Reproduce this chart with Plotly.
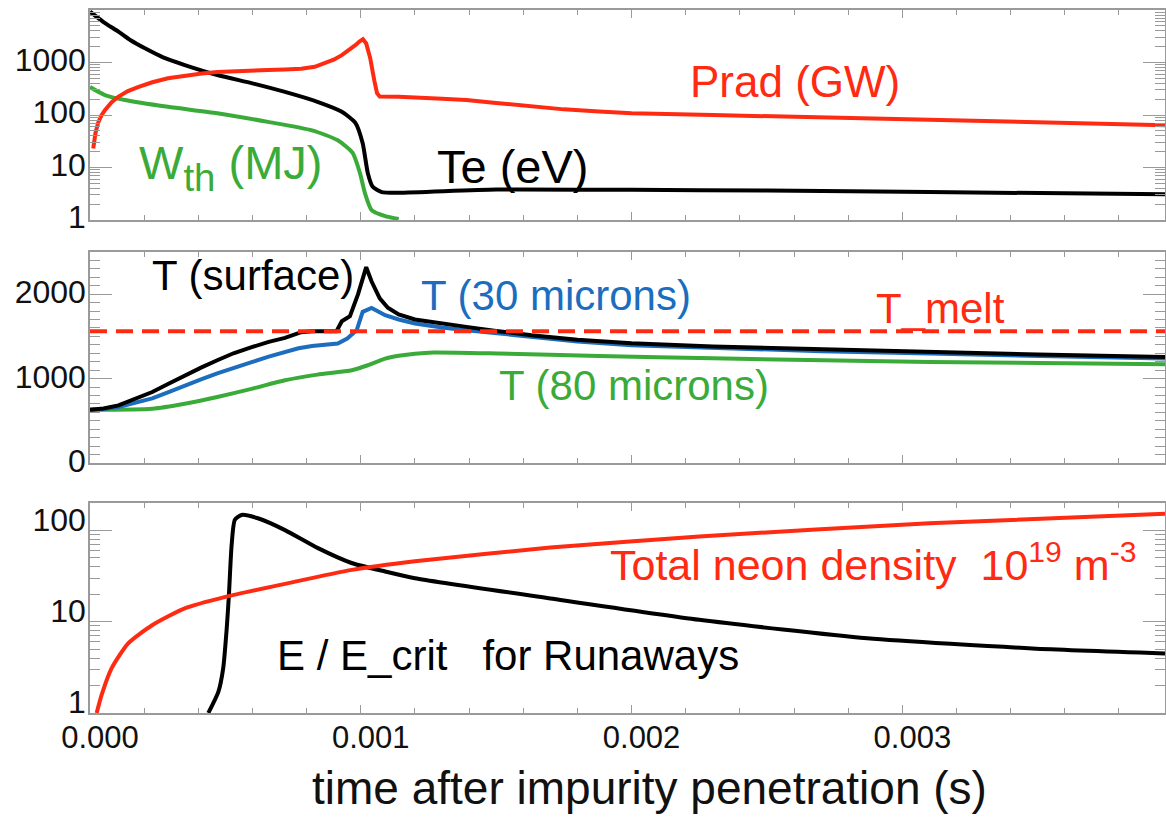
import plotly.graph_objects as go

# ---------------- data ----------------
# Panel 1 (log): Te (eV), Prad (GW), Wth (MJ)
t_te = [0, 0.00005, 0.000105, 0.00015, 0.000203, 0.00027, 0.00035, 0.00047, 0.0006,
        0.00072, 0.00084, 0.00093, 0.00098, 0.001007, 0.001026, 0.001044, 0.001077,
        0.00114, 0.0015, 0.002, 0.0025, 0.0031, 0.00397]
te = [9300, 5900, 3860, 2650, 1860, 1250, 895, 578, 400, 275, 178, 115, 71, 29, 7.8, 4.3,
      3.4, 3.3, 3.8, 3.75, 3.65, 3.4, 3.1]

t_prad = [0.000012, 0.00002, 0.00003, 0.000042, 0.000055, 0.00008, 0.000104, 0.00014,
          0.000177, 0.00023, 0.000288, 0.00035, 0.000413, 0.00047, 0.000535, 0.0006,
          0.000657, 0.00072, 0.00078, 0.00083, 0.000867, 0.0009, 0.00093, 0.00096, 0.00098,
          0.000995, 0.001008, 0.00102, 0.001035, 0.00105, 0.00106, 0.00107, 0.00114, 0.0013,
          0.00139, 0.0015, 0.00163, 0.00175, 0.00188, 0.002, 0.0023, 0.0027, 0.0031, 0.0035,
          0.00397]
prad = [23, 45, 71, 98, 124, 175, 222, 285, 340, 420, 500, 565, 620, 660, 690, 708, 720,
        735, 760, 830, 960, 1130, 1380, 1750, 2140, 2500, 2780, 2300, 1200, 450, 260, 225,
        222, 205, 193, 170, 144, 128, 116, 108, 100, 89, 80, 71, 64]

t_wth = [0, 0.000055, 0.000129, 0.000288, 0.00047, 0.000657, 0.00082, 0.000915, 0.00097,
         0.000997, 0.001015, 0.00104, 0.00109, 0.00114]
wth = [340, 240, 193, 143, 108, 74, 51, 33, 19, 7.8, 3.3, 1.55, 1.19, 1.05]

# Panel 2 (linear): temperatures
T_MELT = 1560
t_surf = [0, 0.00005, 0.000105, 0.00016, 0.00023, 0.00029, 0.00035, 0.00041, 0.00047,
          0.00053, 0.0006, 0.00066, 0.00072, 0.00078, 0.00082, 0.00091, 0.00093, 0.00096,
          0.00099, 0.00102, 0.00104, 0.00107, 0.0011, 0.00114, 0.0012, 0.0013, 0.00139,
          0.0015, 0.00163, 0.0018, 0.002, 0.0023, 0.0027, 0.0031, 0.0035, 0.00397]
T_surf = [632, 645, 683, 750, 841, 940, 1039, 1130, 1217, 1300, 1375, 1435, 1482, 1550,
          1560, 1560, 1680, 1740, 2000, 2320, 2150, 1950, 1840, 1760, 1700, 1650, 1613,
          1565, 1514, 1460, 1419, 1380, 1345, 1316, 1285, 1257]

t_30 = [0, 0.00005, 0.000105, 0.00016, 0.00023, 0.00029, 0.00035, 0.00041, 0.00047,
        0.00053, 0.0006, 0.00066, 0.00072, 0.00077, 0.00082, 0.00087, 0.000915, 0.00095,
        0.000985, 0.001007, 0.00104, 0.00109, 0.00114, 0.0012, 0.0013, 0.00139, 0.0015,
        0.00163, 0.0018, 0.002, 0.0023, 0.0027, 0.0031, 0.0035, 0.00397]
T_30 = [632, 640, 663, 705, 766, 840, 920, 990, 1063, 1130, 1197, 1260, 1316, 1360, 1387,
        1405, 1416, 1475, 1574, 1791, 1838, 1751, 1700, 1653, 1605, 1574, 1535, 1494, 1440,
        1395, 1360, 1325, 1297, 1265, 1237]

t_80 = [0, 0.00023, 0.00035, 0.00047, 0.0006, 0.00072, 0.00084, 0.000967, 0.001026,
        0.00109, 0.00114, 0.0012, 0.00127, 0.00151, 0.00188, 0.0023, 0.0031, 0.00397]
T_80 = [632, 644, 703, 782, 881, 980, 1047, 1099, 1158, 1237, 1270, 1295, 1309, 1297,
        1269, 1240, 1197, 1170]

# Panel 3 (log): neon density, E/Ecrit
t_ne = [0.0000246, 0.000043, 0.00008, 0.000141, 0.000228, 0.00035, 0.0005, 0.00072,
        0.000967, 0.0012, 0.0017, 0.00225, 0.0031, 0.00397]
ne = [1, 1.58, 3.1, 5.8, 9.1, 14, 18.7, 26, 37, 46, 65, 86, 120, 152]

t_ee = [0.000437, 0.000474, 0.000492, 0.000505, 0.000513, 0.000523, 0.000535, 0.00056,
        0.00062, 0.00072, 0.000842, 0.000966, 0.00109, 0.0012, 0.0017, 0.00225, 0.00287,
        0.00348, 0.00397]
ee = [1, 1.7, 3.1, 8.5, 19.6, 69, 131, 148, 136, 101, 64, 44, 35.5, 30, 18, 10.5, 6.6,
      5.1, 4.5]

T_END = 0.00397
x_ticks = [0, 0.001, 0.002, 0.003]
x_tick_text = ["0.000", "0.001", "0.002", "0.003"]

# ---------------- styling ----------------
W, H = 1166, 817
RED = "#ff2a12"
BLACK = "#000000"
GREEN = "#3aab38"
BLUE = "#1c6dbe"
GRAY = "#9a9a9a"
FONT = "Liberation Sans, Arial, Helvetica, sans-serif"
LW = 4


def px(x):
    return x / W


def py(y):
    return 1 - y / H


fig = go.Figure()


def line(x, y, color, ax, shape="linear", dash="solid"):
    fig.add_trace(go.Scatter(
        x=x, y=y, mode="lines", xaxis="x" + ax, yaxis="y" + ax,
        line=dict(color=color, width=LW, shape=shape, smoothing=0.6, dash=dash),
        showlegend=False, hoverinfo="skip"))


line(t_wth, wth, GREEN, "", "spline")
line(t_te, te, BLACK, "", "spline")
line(t_prad, prad, RED, "", "linear")

line(t_80, T_80, GREEN, "2", "spline")
line(t_30, T_30, BLUE, "2", "linear")
line(t_surf, T_surf, BLACK, "2", "linear")
line([0, T_END], [T_MELT, T_MELT], RED, "2", dash="17px,9px")

line(t_ee, ee, BLACK, "3", "spline")
line(t_ne, ne, RED, "3", "spline")

log_minor1 = [m * 10 ** e for e in range(0, 4) for m in range(2, 10)]
log_minor3 = [m * 10 ** e for e in range(0, 3) for m in range(2, 10)]

xdom = [px(90), px(1165)]
common_x = dict(range=[0, T_END], domain=xdom, showline=True, mirror="allticks",
                linecolor=GRAY, linewidth=1.5, ticks="inside", ticklen=8,
                tickcolor=GRAY, tickwidth=1.3, tickvals=x_ticks, ticktext=x_tick_text,
                showgrid=False, zeroline=False, automargin=False,
                minor=dict(ticks="inside", ticklen=5, tickcolor=GRAY, tickwidth=1.2,
                           dtick=0.0002, showgrid=False))
common_y = dict(showline=True, mirror="allticks", linecolor=GRAY, linewidth=1.5,
                ticks="inside", ticklen=22, tickcolor=GRAY, tickwidth=1.3,
                showgrid=False, zeroline=False, ticklabelstandoff=-4, automargin=False,
                tickfont=dict(family=FONT, size=32, color="#111"))

fig.update_layout(
    template="none",
    width=W, height=H, margin=dict(l=0, r=0, t=0, b=0, autoexpand=False),
    paper_bgcolor="white", plot_bgcolor="white",
    font=dict(family=FONT, color="#111"),
    xaxis=dict(**common_x, anchor="y", showticklabels=False),
    xaxis2=dict(**common_x, anchor="y2", showticklabels=False),
    xaxis3=dict(**common_x, anchor="y3", showticklabels=True, ticklabelshift=10,
                ticklabelstandoff=-4, tickfont=dict(family=FONT, size=31, color="#111")),
    yaxis=dict(**common_y, type="log", range=[0, 4], domain=[py(220), py(10)],
               anchor="x", tickvals=[1, 10, 100, 1000], ticktext=["1", "10", "100", "1000"],
               ticklabelshift=-3,
               minor=dict(ticks="inside", ticklen=10, tickcolor=GRAY, tickwidth=1.2,
                          tickvals=log_minor1, showgrid=False)),
    yaxis2=dict(**common_y, range=[0, 2500], domain=[py(463), py(252)], anchor="x2",
                tickvals=[0, 1000, 2000], ticktext=["0", "1000", "2000"], ticklabelshift=-2,
                minor=dict(ticks="inside", ticklen=10, tickcolor=GRAY, tickwidth=1.2,
                           dtick=100, showgrid=False)),
    yaxis3=dict(**common_y, type="log", range=[0, 2.301], domain=[py(713), py(503)],
                anchor="x3", tickvals=[1, 10, 100], ticktext=["1", "10", "100"],
                ticklabelshift=-11,
                minor=dict(ticks="inside", ticklen=10, tickcolor=GRAY, tickwidth=1.2,
                           tickvals=log_minor3, showgrid=False)),
)


def note(text, x, y, color, size=42, xanchor="left"):
    fig.add_annotation(text=text, x=px(x), y=py(y), xref="paper", yref="paper",
                       xanchor=xanchor, yanchor="middle", showarrow=False,
                       font=dict(family=FONT, size=size, color=color))


note("Prad (GW)", 688, 82, RED, 44)
note("<span style='font-size:47px'>W</span><sub>th</sub>"
     "<span style='font-size:47px'> (MJ)</span>", 137, 168, GREEN, 55)
note("Te (eV)", 435, 166, BLACK, 47)
note("T (surface)", 150, 275, BLACK, 42)
note("T (30 microns)", 419, 295, BLUE, 42)
note("T_melt", 874, 308, RED, 42)
note("T (80 microns)", 497, 385, GREEN, 42)
note("Total neon density\u00a0\u00a010<sup>19</sup> m<sup>-3</sup>", 608, 562, RED, 43)
note("E / E_crit\u00a0\u00a0\u00a0for Runaways", 275, 655, BLACK, 42)
note("time after impurity penetration (s)", 649, 788, "#111", 46, xanchor="center")

fig.write_html("out.html")
